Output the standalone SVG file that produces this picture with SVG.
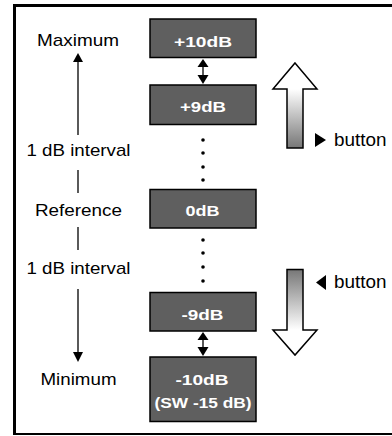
<svg xmlns="http://www.w3.org/2000/svg" width="392" height="436" viewBox="0 0 392 436">
<defs>
<style>
.lbl{font-family:"Liberation Sans",Arial,sans-serif;font-size:17px;fill:#000;text-anchor:middle}
.btn{font-family:"Liberation Sans",Arial,sans-serif;font-size:17.5px;fill:#000}
.box rect{fill:#5f5f5f;stroke:#000;stroke-width:1.5}
.box text{font-family:"Liberation Sans",Arial,sans-serif;font-size:15.5px;font-weight:bold;fill:#fff;text-anchor:middle}
.ln{stroke:#000;stroke-width:1.3;fill:none}
.big{stroke:#000;stroke-width:1.5}
</style>
<linearGradient id="gUp" gradientUnits="userSpaceOnUse" x1="0" y1="89" x2="0" y2="148">
<stop offset="0" stop-color="#ffffff"/><stop offset="1" stop-color="#767676"/>
</linearGradient>
<linearGradient id="gDn" gradientUnits="userSpaceOnUse" x1="0" y1="269" x2="0" y2="330">
<stop offset="0" stop-color="#767676"/><stop offset="1" stop-color="#ffffff"/>
</linearGradient>
</defs>
<rect width="392" height="436" fill="#fff"/>
<g id="frame">
<line x1="14.5" y1="4" x2="14.5" y2="435" stroke="#000" stroke-width="3"/>
<line x1="13" y1="5.5" x2="392" y2="5.5" stroke="#000" stroke-width="3"/>
<line x1="13" y1="434" x2="392" y2="434" stroke="#000" stroke-width="2"/>
</g>
<g id="connectors">
<line class="ln" x1="78" y1="60" x2="78" y2="135"/>
<polygon points="78,53 73,62 83,62" fill="#000"/>
<line class="ln" x1="78" y1="170" x2="78" y2="193"/>
<line class="ln" x1="78" y1="227" x2="78" y2="250"/>
<line class="ln" x1="78" y1="289" x2="78" y2="354"/>
<polygon points="78,362 73,352 83,352" fill="#000"/>
<line class="ln" x1="203" y1="64" x2="203" y2="78"/>
<polygon points="203,59 197.5,67 208.5,67" fill="#000"/>
<polygon points="203,84 197.5,75 208.5,75" fill="#000"/>
<line class="ln" x1="203" y1="337" x2="203" y2="351"/>
<polygon points="203,332 197.5,340 208.5,340" fill="#000"/>
<polygon points="203,356 197.5,347 208.5,347" fill="#000"/>
<g fill="#000">
<circle cx="203" cy="140" r="1.8"/><circle cx="203" cy="153" r="1.8"/><circle cx="203" cy="167" r="1.8"/><circle cx="203" cy="180" r="1.8"/>
<circle cx="203" cy="240" r="1.8"/><circle cx="203" cy="253" r="1.8"/><circle cx="203" cy="267" r="1.8"/><circle cx="203" cy="281" r="1.8"/>
</g>
</g>
<g id="labels">
<text class="lbl" x="78" y="46" textLength="82" lengthAdjust="spacingAndGlyphs">Maximum</text>
<text class="lbl" x="78.5" y="156" textLength="104" lengthAdjust="spacingAndGlyphs">1 dB interval</text>
<text class="lbl" x="78.5" y="216" textLength="87" lengthAdjust="spacingAndGlyphs">Reference</text>
<text class="lbl" x="78.5" y="274" textLength="104" lengthAdjust="spacingAndGlyphs">1 dB interval</text>
<text class="lbl" x="78.5" y="385" textLength="76" lengthAdjust="spacingAndGlyphs">Minimum</text>
</g>
<g id="n10" class="box"><rect x="150" y="19" width="106" height="38.5"/><text x="203" y="47" textLength="58" lengthAdjust="spacingAndGlyphs">+10dB</text></g>
<g id="n9" class="box"><rect x="150" y="85" width="106" height="39.5"/><text x="203" y="111.5" textLength="46" lengthAdjust="spacingAndGlyphs">+9dB</text></g>
<g id="n0" class="box"><rect x="150" y="189.5" width="106" height="38.5"/><text x="202.5" y="216" textLength="34" lengthAdjust="spacingAndGlyphs">0dB</text></g>
<g id="nm9" class="box"><rect x="150" y="292.5" width="106" height="38.5"/><text x="202.5" y="320" textLength="42" lengthAdjust="spacingAndGlyphs">-9dB</text></g>
<g id="nm10" class="box"><rect x="150" y="357" width="106" height="64.5"/><text x="202" y="385" textLength="53" lengthAdjust="spacingAndGlyphs">-10dB</text><text x="203" y="408" textLength="97" lengthAdjust="spacingAndGlyphs">(SW -15 dB)</text></g>
<g id="upBtn">
<path class="big" d="M295,63 L317,89 L303,89 L303,148 L287,148 L287,89 L273,89 Z" fill="url(#gUp)"/>
<polygon points="315,133 326,140 315,147" fill="#000"/>
<text class="btn" x="334" y="145.5" textLength="52.5" lengthAdjust="spacingAndGlyphs">button</text>
</g>
<g id="downBtn">
<path class="big" d="M287,269.5 L303,269.5 L303,330 L317,330 L295,355 L273,330 L287,330 Z" fill="url(#gDn)"/>
<polygon points="326,275 316,282.5 326,290" fill="#000"/>
<text class="btn" x="334" y="287.5" textLength="52.5" lengthAdjust="spacingAndGlyphs">button</text>
</g>
</svg>
